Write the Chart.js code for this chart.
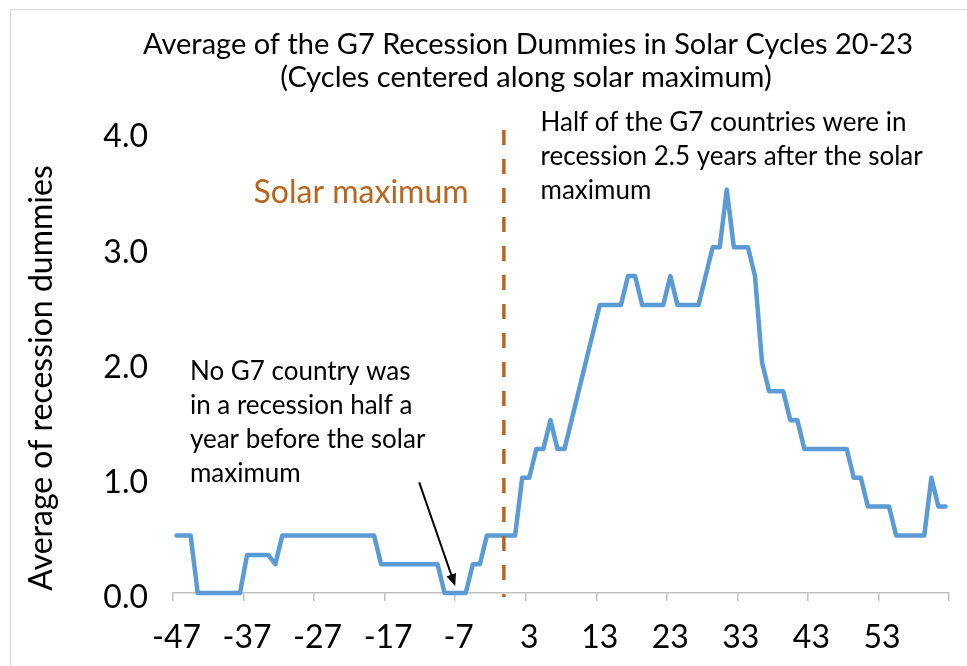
<!DOCTYPE html>
<html lang="en">
<head>
  <meta charset="UTF-8" />
  <title>Average of the G7 Recession Dummies in Solar Cycles 20-23</title>
  <script src="https://cdn.jsdelivr.net/npm/chart.js"></script>
  <style>
    html, body { margin: 0; padding: 0; background: #fff; }
    #wrap { position: relative; width: 967px; height: 666px; overflow: hidden; }
    /* light frame of the original chart object, cut off at right and bottom */
    #frame { position: absolute; left: 10px; top: 9px; width: 1000px; height: 700px;
             border-left: 1.5px solid #d9d9d9; border-top: 1.5px solid #d9d9d9; }
    #chart { position: absolute; left: 0; top: 0; }
  </style>
</head>
<body>
<div id="wrap">
  <div id="frame"></div>
  <canvas id="chart" width="967" height="666"></canvas>
</div>

<script>
  // months relative to the solar maximum
  const months = [
    -47, -46, -45, -44, -43, -42, -41, -40, -39, -38,
    -37, -36, -35, -34, -33, -32, -31, -30, -29, -28,
    -27, -26, -25, -24, -23, -22, -21, -20, -19, -18,
    -17, -16, -15, -14, -13, -12, -11, -10, -9, -8,
    -7, -6, -5, -4, -3, -2, -1, 0, 1, 2,
    3, 4, 5, 6, 7, 8, 9, 10, 11, 12,
    13, 14, 15, 16, 17, 18, 19, 20, 21, 22,
    23, 24, 25, 26, 27, 28, 29, 30, 31, 32,
    33, 34, 35, 36, 37, 38, 39, 40, 41, 42,
    43, 44, 45, 46, 47, 48, 49, 50, 51, 52,
    53, 54, 55, 56, 57, 58, 59, 60, 61, 62
  ];

  // average of recession dummies
  const dummies = [
    0.5, 0.5, 0.5, 0, 0, 0, 0, 0, 0, 0,
    0.33, 0.33, 0.33, 0.33, 0.25, 0.5, 0.5, 0.5, 0.5, 0.5,
    0.5, 0.5, 0.5, 0.5, 0.5, 0.5, 0.5, 0.5, 0.5, 0.25,
    0.25, 0.25, 0.25, 0.25, 0.25, 0.25, 0.25, 0.25, 0, 0,
    0, 0, 0.25, 0.25, 0.5, 0.5, 0.5, 0.5, 0.5, 1.0,
    1.0, 1.25, 1.25, 1.5, 1.25, 1.25, 1.5, 1.75, 2.0, 2.25,
    2.5, 2.5, 2.5, 2.5, 2.75, 2.75, 2.5, 2.5, 2.5, 2.5,
    2.75, 2.5, 2.5, 2.5, 2.5, 2.75, 3.0, 3.0, 3.5, 3.0,
    3.0, 3.0, 2.75, 2.0, 1.75, 1.75, 1.75, 1.5, 1.5, 1.25,
    1.25, 1.25, 1.25, 1.25, 1.25, 1.25, 1.0, 1.0, 0.75, 0.75,
    0.75, 0.75, 0.5, 0.5, 0.5, 0.5, 0.5, 1.0, 0.75, 0.75
  ];

  const xTickLabels = [-47, -37, -27, -17, -7, 3, 13, 23, 33, 43, 53];
  const yTickLabels = [0, 1, 2, 3, 4];

  const solarMaxMonth = -0.6;   // where the dashed marker sits
  const orange = '#B8651E';
  const font = 'Lato';

  // Excel-style category axis: tick marks sit between categories
  const tickEdges = xTickLabels.map(v => v - 0.5).concat([months[months.length - 1] + 0.5]);

  const notes = {
    id: 'notes',
    afterDatasetsDraw(chart) {
      const { ctx, chartArea, scales: { x, y } } = chart;
      ctx.save();

      // title
      ctx.fillStyle = '#000';
      ctx.textAlign = 'center';
      ctx.textBaseline = 'middle';
      ctx.font = '29px ' + font;
      ctx.fillText('Average of the G7 Recession Dummies in Solar Cycles 20-23', 528, 45);
      ctx.fillText('(Cycles centered along solar maximum)', 526, 78);

      // y axis title
      ctx.save();
      ctx.translate(42, 378);
      ctx.rotate(-Math.PI / 2);
      ctx.font = '32px ' + font;
      ctx.fillText('Average of recession dummies', 0, 0);
      ctx.restore();

      // dashed solar maximum marker
      const mx = x.getPixelForValue(solarMaxMonth);
      ctx.strokeStyle = orange;
      ctx.lineWidth = 3.5;
      ctx.setLineDash([15, 14]);
      ctx.beginPath();
      ctx.moveTo(mx, chartArea.top - 2);
      ctx.lineTo(mx, chartArea.bottom + 4);
      ctx.stroke();
      ctx.setLineDash([]);

      ctx.fillStyle = orange;
      ctx.textAlign = 'right';
      ctx.font = '32px ' + font;
      ctx.fillText('Solar maximum', x.getPixelForValue(-5.6), y.getPixelForValue(3.47));

      // right note
      ctx.fillStyle = '#000';
      ctx.textAlign = 'left';
      ctx.font = '26px ' + font;
      const r0 = y.getPixelForValue(4.085);
      ['Half of the G7 countries were in',
       'recession 2.5 years after the solar',
       'maximum'].forEach((t, i) => ctx.fillText(t, x.getPixelForValue(4.6), r0 + i * 34));

      // left note
      const l0 = y.getPixelForValue(1.92);
      ['No G7 country was',
       'in a recession half a',
       'year before the solar',
       'maximum'].forEach((t, i) => ctx.fillText(t, x.getPixelForValue(-45.1), l0 + i * 34));

      // arrow to the zero stretch
      const ax0 = x.getPixelForValue(-12.6), ay0 = y.getPixelForValue(0.96);
      const ax1 = x.getPixelForValue(-7.5), ay1 = y.getPixelForValue(0.06);
      const ang = Math.atan2(ay1 - ay0, ax1 - ax0);
      ctx.strokeStyle = '#000';
      ctx.lineWidth = 2;
      ctx.beginPath();
      ctx.moveTo(ax0, ay0);
      ctx.lineTo(ax1 - 8 * Math.cos(ang), ay1 - 8 * Math.sin(ang));
      ctx.stroke();
      ctx.fillStyle = '#000';
      ctx.beginPath();
      ctx.moveTo(ax1, ay1);
      ctx.lineTo(ax1 - 12 * Math.cos(ang) + 5 * Math.sin(ang), ay1 - 12 * Math.sin(ang) - 5 * Math.cos(ang));
      ctx.lineTo(ax1 - 12 * Math.cos(ang) - 5 * Math.sin(ang), ay1 - 12 * Math.sin(ang) + 5 * Math.cos(ang));
      ctx.closePath();
      ctx.fill();

      ctx.restore();
    }
  };

  new Chart(document.getElementById('chart'), {
    type: 'line',
    data: {
      datasets: [{
        data: months.map((m, i) => ({ x: m, y: dummies[i] })),
        borderColor: '#5B9BD5',
        borderWidth: 4.5,
        borderJoinStyle: 'round',
        borderCapStyle: 'round',
        pointRadius: 0,
        tension: 0,
        clip: false
      }]
    },
    options: {
      responsive: false,
      animation: false,
      layout: { padding: { left: 20, right: 18, top: 132, bottom: 12 } },
      plugins: {
        legend: { display: false },
        tooltip: { enabled: false }
      },
      scales: {
        x: {
          type: 'linear',
          min: tickEdges[0],
          max: tickEdges[tickEdges.length - 1],
          afterBuildTicks: s => { s.ticks = tickEdges.map(v => ({ value: v })); },
          afterFit: s => { s.height = 61; },
          ticks: {
            autoSkip: false,
            maxRotation: 0,
            labelOffset: 3.5,
            padding: 17,
            color: '#000',
            font: { family: font, size: 32 },
            callback: v => xTickLabels.includes(v + 0.5) ? String(v + 0.5) : ''
          },
          grid: { drawOnChartArea: false, drawTicks: true, tickLength: 8, color: '#BFBFBF', lineWidth: 1.5 },
          border: { display: true, color: '#BFBFBF', width: 1.5 }
        },
        y: {
          min: 0,
          max: 4,
          afterBuildTicks: s => { s.ticks = yTickLabels.map(v => ({ value: v })); },
          afterFit: s => { s.width = 153; },
          ticks: {
            padding: 25,
            labelOffset: 5,
            color: '#000',
            font: { family: font, size: 32 },
            callback: v => v.toFixed(1)
          },
          grid: { display: false, drawTicks: false },
          border: { display: false }
        }
      }
    },
    plugins: [notes]
  });
</script>
</body>
</html>
